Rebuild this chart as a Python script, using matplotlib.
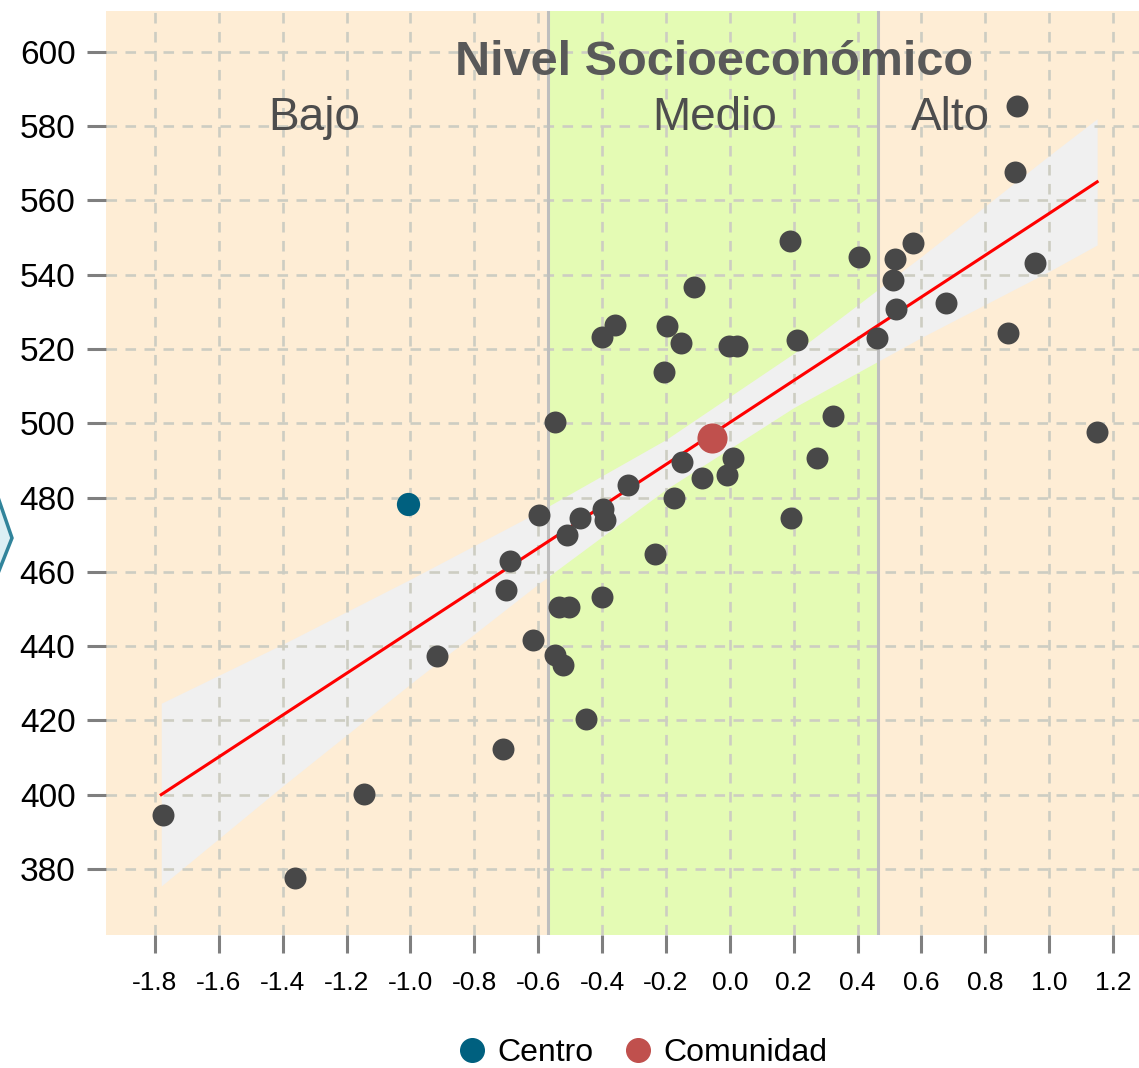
import numpy as np
import matplotlib
matplotlib.use("Agg")
import matplotlib.pyplot as plt
from matplotlib.lines import Line2D
from matplotlib.patches import Polygon

plt.rcParams['font.family'] = ['Liberation Sans', 'DejaVu Sans']
plt.rcParams['axes.unicode_minus'] = False

# indice socioeconomico (x) y puntaje (y) de cada establecimiento
nse = [-1.775, -1.362, -1.145, -0.917, -0.710, -0.688, -0.700, -0.616, -0.597, -0.547,
       -0.547, -0.522, -0.535, -0.503, -0.510, -0.469, -0.450, -0.400, -0.397, -0.391,
       -0.400, -0.359, -0.319, -0.234, -0.206, -0.197, -0.153, -0.175, -0.150, -0.112,
       -0.087, -0.009, 0.010, -0.002, 0.023, 0.189, 0.211, 0.192, 0.273, 0.323,
       0.405, 0.461, 0.511, 0.518, 0.521, 0.574, 0.677, 0.871, 0.893, 0.900,
       0.956, 1.150]
puntaje = [394.5, 377.6, 400.2, 437.4, 412.3, 462.9, 455.1, 441.7, 475.4, 500.4,
           437.6, 435.0, 450.6, 450.6, 470.0, 474.5, 420.4, 453.3, 476.9, 474.0,
           523.3, 526.5, 483.4, 464.8, 513.8, 526.2, 521.6, 479.9, 489.6, 536.7,
           485.3, 486.1, 490.7, 520.8, 520.8, 549.1, 522.5, 474.5, 490.7, 502.0,
           544.8, 523.0, 538.6, 544.2, 530.8, 548.5, 532.4, 524.3, 567.7, 585.5,
           543.2, 497.7]

centro_x = [-1.008]
centro_y = [478.3]
comunidad_x = [-0.056]
comunidad_y = [496.1]

# recta de regresion y banda de confianza
ajuste_x = [-1.78, -1.4, -1.0, -0.6, -0.2, 0.2, 0.6, 1.0, 1.15]
ajuste_y = [400.0, 421.4, 443.9, 466.4, 488.9, 511.5, 534.0, 556.5, 565.0]
banda_inf = [375.4, 402.3, 429.8, 456.7, 482.2, 504.2, 523.1, 540.9, 548.0]
banda_sup = [424.6, 440.5, 458.0, 476.1, 495.6, 518.8, 544.9, 572.1, 582.0]

cortes = [-0.569, 0.464]
niveles = ['Bajo', 'Medio', 'Alto']
niveles_x = [-1.302, -0.049, 0.69]
titulo = 'Nivel Socioeconómico'

xticks = np.round(np.arange(-1.8, 1.21, 0.2), 1)
yticks = np.arange(380, 601, 20)
xlim = (-1.953, 1.281)
ylim = (362.2, 611.0)

peach = '#FEEDD5'
green = '#E4FBB4'

fig = plt.figure(figsize=(11.39, 10.68), dpi=100)
ax = fig.add_axes([106 / 1139, 1 - 935 / 1068, 1 - 106 / 1139, 924 / 1068])

ax.axvspan(xlim[0], cortes[0], color=peach, lw=0, zorder=0)
ax.axvspan(cortes[0], cortes[1], color=green, lw=0, zorder=0)
ax.axvspan(cortes[1], xlim[1], color=peach, lw=0, zorder=0)

ax.fill_between(ajuste_x, banda_inf, banda_sup, color='#F0F0F0', lw=0, zorder=1.2)

ax.set_axisbelow('line')
ax.grid(True, color='#CDCDC2', lw=1.9, ls=(0, (4, 3.2)))

for c in cortes:
    ax.axvline(c, color='#BEBEBE', lw=2.2, zorder=1.8)

ax.plot(ajuste_x, ajuste_y, color='red', lw=2.2, zorder=2)

ax.scatter(nse, puntaje, s=250, color='#484848', lw=0, zorder=3)
ax.scatter(centro_x, centro_y, s=280, color='#00607F', lw=0, zorder=3)
ax.scatter(comunidad_x, comunidad_y, s=470, color='#C0504D', lw=0, zorder=3)

ax.text(comunidad_x[0] + 0.007, 593.8, titulo, ha='center', va='baseline',
        fontsize=35, fontweight='bold', color='#595959')
for lab, lx in zip(niveles, niveles_x):
    ax.text(lx, 579.0, lab, ha='center', va='baseline', fontsize=33, color='#4D4D4D')

ax.set_xlim(*xlim)
ax.set_ylim(*ylim)
ax.set_xticks(xticks)
ax.set_xticklabels(['%.1f' % (v + 0.0) for v in xticks])
ax.set_yticks(yticks)
ax.tick_params(axis='y', labelsize=24, length=14, width=2.2, color='#7F7F7F', pad=8)
ax.tick_params(axis='x', labelsize=19, length=13, width=2.2, color='#7F7F7F', pad=13)
for sp in ax.spines.values():
    sp.set_visible(False)

handles = [Line2D([], [], ls='', marker='o', ms=17, color='#00607F'),
           Line2D([], [], ls='', marker='o', ms=17, color='#C0504D')]
fig.legend(handles, ['Centro', 'Comunidad'], loc='center', bbox_to_anchor=(0.562, 0.014),
           ncol=2, frameon=False, fontsize=23, handletextpad=0.2, columnspacing=0.8,
           handlelength=1.2)

# flecha decorativa del borde izquierdo
chev = Polygon([(-0.01, 1 - 470 / 1068), (12 / 1139, 1 - 538 / 1068), (-0.01, 1 - 597 / 1068)],
               closed=False, transform=fig.transFigure, facecolor='#DCEFF4',
               edgecolor='#31849B', lw=2.5)
fig.patches.append(chev)

fig.savefig('out.png', dpi=100)
